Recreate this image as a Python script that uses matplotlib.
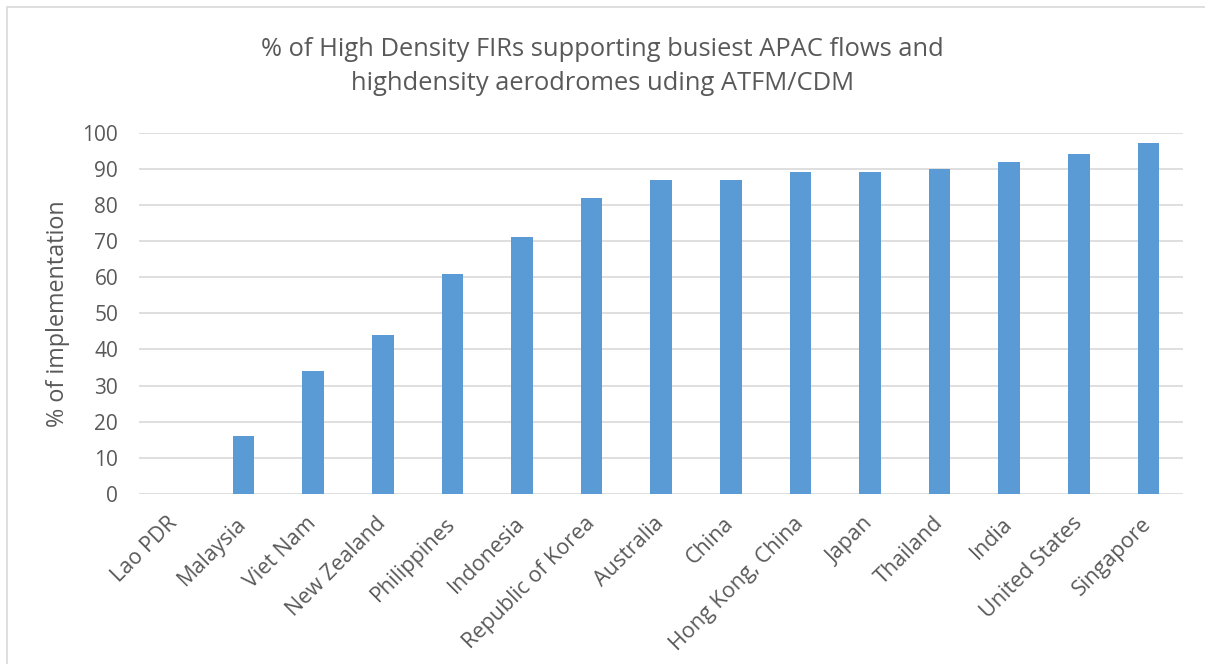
import matplotlib.pyplot as plt
from matplotlib.patches import Rectangle

plt.rcParams['font.family'] = ['Open Sans', 'DejaVu Sans']

countries = ["Lao PDR", "Malaysia", "Viet Nam", "New Zealand", "Philippines",
             "Indonesia", "Republic of Korea", "Australia", "China",
             "Hong Kong, China", "Japan", "Thailand", "India",
             "United States", "Singapore"]
implementation = [0, 16, 34, 44, 61, 71, 82, 87, 87, 89, 89, 90, 92, 94, 97]

TEXT = "#595959"
GRID = "#D9D9D9"
BAR = "#5B9BD5"

fig = plt.figure(figsize=(12.05, 6.64), dpi=100)
ax = fig.add_axes([0.1154, 0.256, 0.8666, 0.5443])

x = range(len(countries))
ax.bar(x, implementation, width=0.31, color=BAR, zorder=3)

ax.set_xlim(-0.5, len(countries) - 0.5)
ax.set_ylim(0, 100)
ax.set_yticks(range(0, 101, 10))
ax.grid(axis="y", color=GRID, linewidth=1.2, zorder=0)
for s in ax.spines.values():
    s.set_visible(False)
ax.tick_params(axis="both", length=0, colors=TEXT)
ax.tick_params(axis="y", pad=15, labelsize=15)
ax.set_xticks(list(x))
ax.set_xticklabels(countries, rotation=45, ha="right", va="center",
                   rotation_mode="anchor", fontsize=15.5)
ax.tick_params(axis="x", pad=19)

ax.set_ylabel("% of implementation", color=TEXT, fontsize=16.8, labelpad=9)
fig.text(0.5, 0.9, "% of High Density FIRs supporting busiest APAC flows and\n"
         "highdensity aerodromes uding ATFM/CDM",
         ha="center", va="center", color=TEXT, fontsize=18.4, linespacing=1.5)

# chart area border
fig.patches.append(Rectangle((7 / 1205, -0.01), 1.02, 1 - 7 / 664 + 0.01,
                             transform=fig.transFigure, fill=False,
                             edgecolor=GRID, linewidth=1.2))

fig.savefig("out.png", dpi=100)
